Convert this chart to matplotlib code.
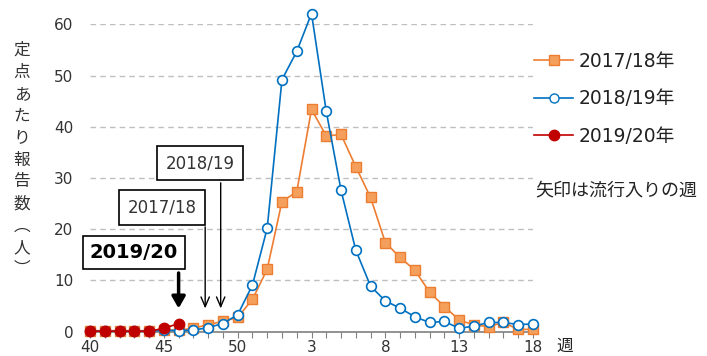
import matplotlib
matplotlib.use("Agg")
import matplotlib.pyplot as plt
from matplotlib.lines import Line2D

plt.rcParams['font.family'] = ['DejaVu Sans', 'Noto Sans CJK JP']

weeks = list(range(40, 53)) + list(range(1, 19))
tick_weeks = [40, 45, 50, 3, 8, 13, 18]

s2017 = [0.2, 0.2, 0.2, 0.2, 0.2, 0.3, 0.3, 0.65, 1.4, 2.0, 2.8, 6.3, 12.2,
         25.4, 27.3, 43.4, 38.2, 38.5, 32.2, 26.2, 17.4, 14.5, 12.0, 7.7, 4.9,
         2.3, 1.3, 1.0, 1.8, 0.45, 0.45]
s2018 = [0.1, 0.1, 0.1, 0.1, 0.1, 0.3, 0.2, 0.3, 0.8, 1.6, 3.3, 9.1, 20.2,
         49.2, 54.7, 62.1, 43.0, 27.6, 15.9, 8.9, 6.0, 4.6, 2.9, 1.8, 2.0,
         0.65, 1.1, 1.8, 1.8, 1.4, 1.5]
s2019 = [0.1, 0.1, 0.1, 0.1, 0.1, 0.65, 1.6]

labels = ["2017/18年", "2018/19年", "2019/20年"]
start_labels = ["2017/18", "2018/19", "2019/20"]

orange = "#ED7D31"
blue = "#0070C0"
red = "#C00000"

x = list(range(len(weeks)))

fig = plt.figure(figsize=(7.07, 3.56), dpi=100)
ax = fig.add_axes([90 / 707, 24.3 / 356, 443 / 707, 307.4 / 356])

ax.plot(x, s2017, color=orange, lw=1.2, marker="s", ms=6.5,
        mfc="#F4A05C", mec=orange, mew=1, clip_on=False, zorder=3)
ax.plot(x, s2018, color=blue, lw=1.2, marker="o", ms=7,
        mfc="white", mec=blue, mew=1.2, clip_on=False, zorder=4)
ax.plot(x[:len(s2019)], s2019, color=red, lw=1.2, marker="o", ms=7.5,
        mfc=red, mec=red, clip_on=False, zorder=5)

ax.set_xlim(0, len(weeks) - 1)
ax.set_ylim(0, 60)
ax.set_yticks(range(0, 61, 10))
ax.yaxis.grid(True, color="#BFBFBF", ls=(0, (4, 3)), lw=1)
ax.set_axisbelow(True)
ax.tick_params(axis="y", length=0, pad=12, labelsize=11, labelcolor="#333333")

ax.set_xticks(x)
ax.set_xticklabels([str(w) if w in tick_weeks else "" for w in weeks])
ax.tick_params(axis="x", length=4, color="#808080", pad=2, labelsize=11,
               labelcolor="#333333")
for sp in ["left", "right", "top"]:
    ax.spines[sp].set_visible(False)
ax.spines["bottom"].set_color("#808080")
ax.spines["bottom"].set_linewidth(1.2)


def idx(w):
    return (w - 40) if w >= 40 else (w + 12)


# start-of-season arrows and boxes
ax.annotate("", xy=(idx(46), 4.0), xytext=(idx(46), 12.0),
            arrowprops=dict(arrowstyle="-|>,head_width=0.4,head_length=0.7",
                            lw=2.5, color="black"), zorder=6)
ax.annotate("", xy=(idx(47.8), 4.0), xytext=(idx(47.8), 21.0),
            arrowprops=dict(arrowstyle="->,head_width=0.3,head_length=0.7",
                            lw=1, color="black"), zorder=6)
ax.annotate("", xy=(idx(48.85), 4.0), xytext=(idx(48.85), 29.6),
            arrowprops=dict(arrowstyle="->,head_width=0.3,head_length=0.7",
                            lw=1, color="black"), zorder=6)

ax.text(2.98, 15.4, start_labels[2], ha="center", va="center", fontsize=14,
        fontweight="bold", color="black", zorder=7,
        bbox=dict(boxstyle="square,pad=0.35", fc="white", ec="black", lw=1.2))
ax.text(4.89, 24.3, start_labels[0], ha="center", va="center", fontsize=12,
        color="#333333", zorder=7,
        bbox=dict(boxstyle="square,pad=0.5", fc="white", ec="black", lw=1.2))
ax.text(7.47, 32.9, start_labels[1], ha="center", va="center", fontsize=12,
        color="#333333", zorder=7,
        bbox=dict(boxstyle="square,pad=0.5", fc="white", ec="black", lw=1.2))

handles = [
    Line2D([], [], color=orange, lw=1.2, marker="s", ms=6.5, mfc="#F4A05C", mec=orange),
    Line2D([], [], color=blue, lw=1.2, marker="o", ms=6.5, mfc="white", mec=blue),
    Line2D([], [], color=red, lw=1.2, marker="o", ms=7.5, mfc=red, mec=red),
]
fig.legend(handles, labels, loc="upper left", bbox_to_anchor=(517 / 707, 1 - 35 / 356),
           frameon=False, fontsize=13.5, handlelength=2.1, handletextpad=0.27,
           labelspacing=0.98, labelcolor="#222222")

fig.text(535 / 707, 1 - 190 / 356, "矢印は流行入りの週", fontsize=13, color="#222222",
         va="center", ha="left", family="Noto Sans CJK JP")
fig.text(565 / 707, 1 - 346 / 356, "週", fontsize=12, color="#222222",
         va="center", ha="center", family="Noto Sans CJK JP")

ylabel = "定点あたり報告数︵人︶"
fig.text(22 / 707, 1 - 160 / 356, "\n".join(ylabel), fontsize=12, color="#333333",
         va="center", ha="center", linespacing=1.38, family="Noto Sans CJK JP")

fig.savefig("out.png", dpi=100)
